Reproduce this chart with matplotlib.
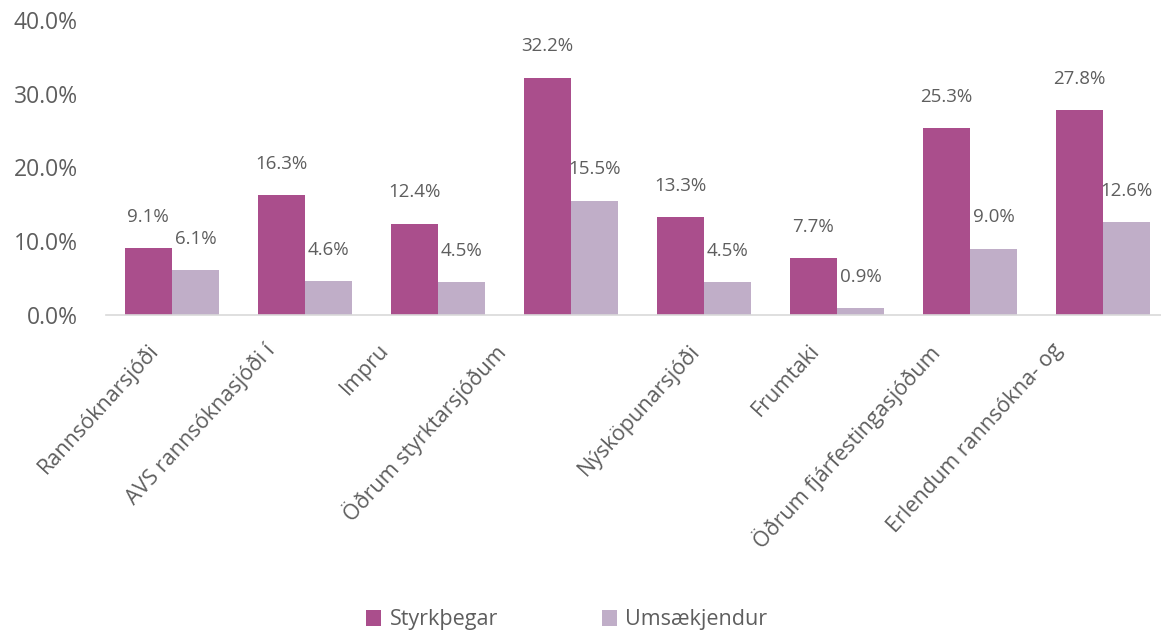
import numpy as np
import matplotlib.pyplot as plt
from matplotlib.transforms import ScaledTranslation, blended_transform_factory

plt.rcParams['font.family'] = ['Open Sans', 'DejaVu Sans']

categories = ["Rannsóknarsjóði", "AVS rannsóknasjóði í", "Impru",
              "Öðrum styrktarsjóðum", "Nýsköpunarsjóði", "Frumtaki",
              "Öðrum fjárfestingasjóðum", "Erlendum rannsókna- og"]
styrkthegar = [9.1, 16.3, 12.4, 32.2, 13.3, 7.7, 25.3, 27.8]
umsaekjendur = [6.1, 4.6, 4.5, 15.5, 4.5, 0.9, 9.0, 12.6]
series_names = ["Styrkþegar", "Umsækjendur"]

# Excel pushed the rotated labels sideways by different amounts (pixels)
label_shift = [-25, -42, -60, -78, -16, -28, -43, -52]

c1 = '#AA4E8C'
c2 = '#C0AEC8'
txt = '#5E5E5E'

W, H = 1161, 637
fig = plt.figure(figsize=(W/100, H/100), dpi=100)
ax = fig.add_axes([105.5/W, 322/H, 1064/W, 295/H])

x = np.arange(len(categories))
w = 0.357
b1 = ax.bar(x - w/2, styrkthegar, w, color=c1, label=series_names[0], zorder=2)
b2 = ax.bar(x + w/2, umsaekjendur, w, color=c2, label=series_names[1], zorder=2)

for bars, vals in ((b1, styrkthegar), (b2, umsaekjendur)):
    for r, v in zip(bars, vals):
        ax.annotate("%.1f%%" % v, (r.get_x() + r.get_width()/2, v),
                    xytext=(0, 16), textcoords='offset points',
                    ha='center', va='bottom', fontsize=13.5, color=txt)

ax.set_xlim(-0.5, len(categories) - 0.5)
ax.set_ylim(0, 40)
ax.set_yticks([0, 10, 20, 30, 40])
ax.set_yticklabels(["%.1f%%" % t for t in [0, 10, 20, 30, 40]])
ax.tick_params(axis='y', length=0, pad=20, labelsize=16.5, labelcolor=txt)
ax.set_xticks([])

for s in ['top', 'right', 'left']:
    ax.spines[s].set_visible(False)
ax.spines['bottom'].set_color('#D9D9D9')
ax.spines['bottom'].set_linewidth(1.2)

trans = blended_transform_factory(ax.transData, ax.transAxes)
for i, lab in enumerate(categories):
    off = ScaledTranslation(label_shift[i]/100, -25/100, fig.dpi_scale_trans)
    ax.text(i, 0, lab, transform=trans + off, rotation=47.5,
            rotation_mode='anchor', ha='right', va='top',
            fontsize=15.5, color=txt)

fig.legend(handles=[b1, b2], loc='center', bbox_to_anchor=(567/W, 1 - 620/H),
           ncol=2, frameon=False, fontsize=15.5, labelcolor=txt,
           handlelength=0.7, handleheight=0.7, handletextpad=0.4,
           columnspacing=4.8)

fig.savefig("out.png", dpi=100)
